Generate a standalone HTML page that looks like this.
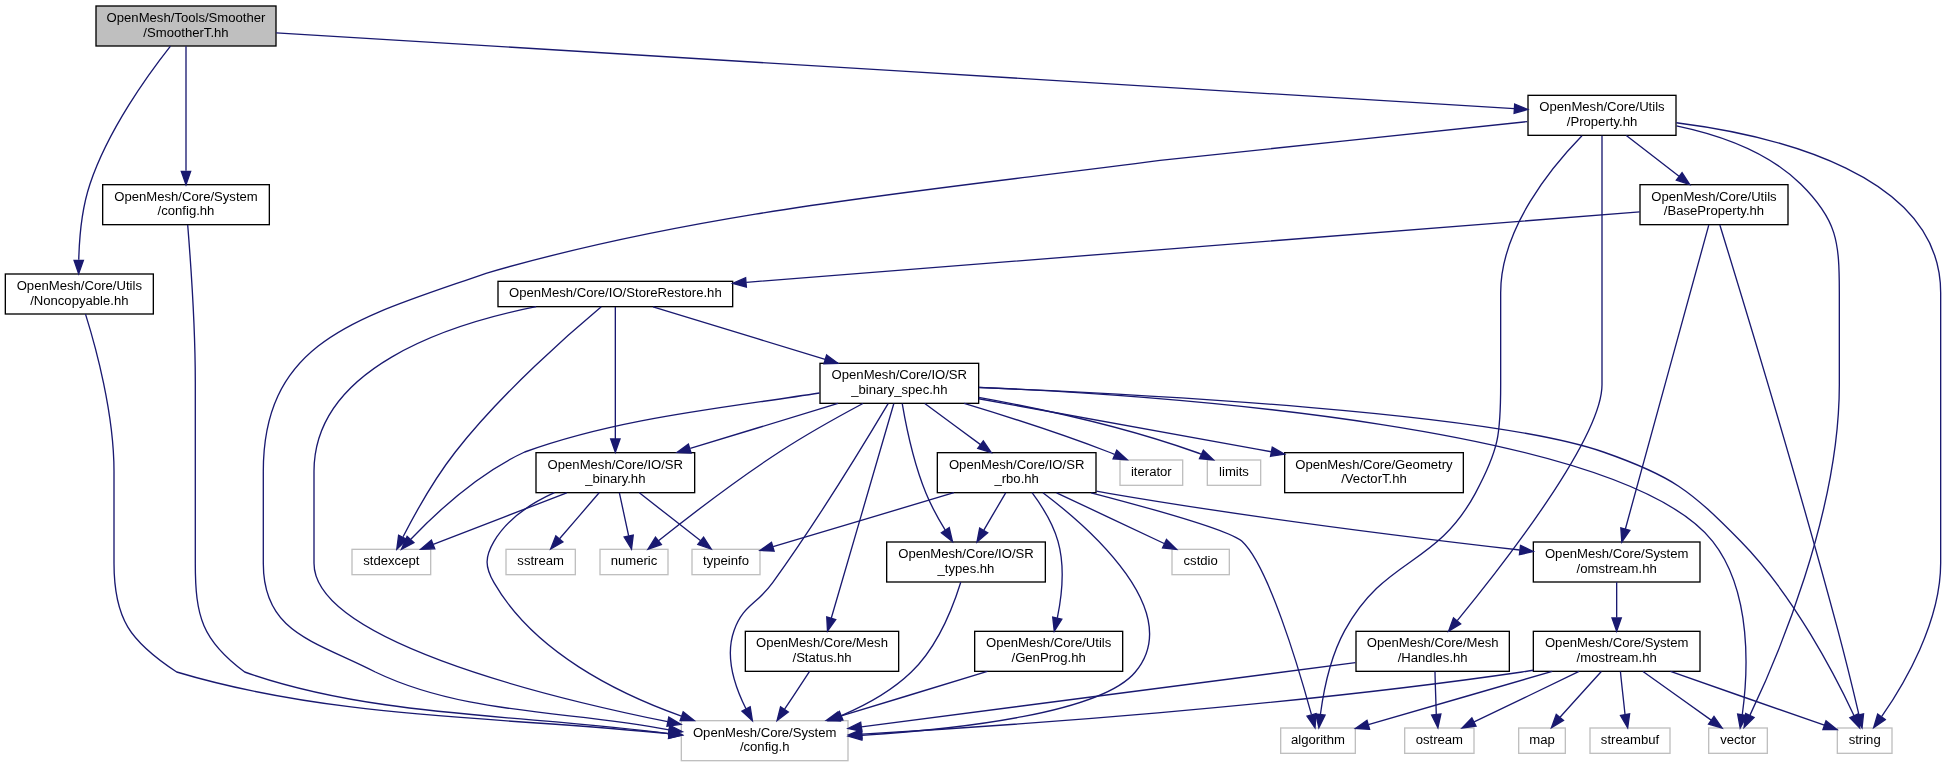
<!DOCTYPE html>
<html><head><meta charset="utf-8"><title>SmootherT.hh include graph</title><style>
html,body{margin:0;padding:0;background:#fff;overflow:hidden;}
svg{display:block;will-change:transform;}
.e{fill:none;stroke:#191970;stroke-width:1.333;}
.a{fill:#191970;stroke:#191970;stroke-width:1.333;}
rect{stroke-width:1.333;}
text{font-family:"Liberation Sans",sans-serif;font-size:13.12px;text-anchor:middle;fill:#000;}
</style></head><body>
<svg width="1946" height="767" viewBox="0 0 1946 767">
<rect x="0" y="0" width="1946" height="767" fill="#fff" stroke="none"/>
<rect x="96" y="6" width="180" height="40" fill="#bfbfbf" stroke="#000"/>
<text x="186" y="22">OpenMesh/Tools/Smoother</text>
<text x="186" y="36.67">/SmootherT.hh</text>
<rect x="102.67" y="184.67" width="166.67" height="40" fill="#fff" stroke="#000"/>
<text x="186" y="200.67">OpenMesh/Core/System</text>
<text x="186" y="215.33">/config.hh</text>
<rect x="1528" y="95.33" width="148" height="40" fill="#fff" stroke="#000"/>
<text x="1602" y="111.33">OpenMesh/Core/Utils</text>
<text x="1602" y="126">/Property.hh</text>
<rect x="5.33" y="274" width="148" height="40" fill="#fff" stroke="#000"/>
<text x="79.33" y="290">OpenMesh/Core/Utils</text>
<text x="79.33" y="304.67">/Noncopyable.hh</text>
<rect x="681.33" y="720.67" width="166.67" height="40" fill="#fff" stroke="#bfbfbf"/>
<text x="764.67" y="736.67">OpenMesh/Core/System</text>
<text x="764.67" y="751.33">/config.h</text>
<rect x="1280.67" y="728" width="74.67" height="25.33" fill="#fff" stroke="#bfbfbf"/>
<text x="1318" y="744">algorithm</text>
<rect x="1640" y="184.67" width="148" height="40" fill="#fff" stroke="#000"/>
<text x="1714" y="200.67">OpenMesh/Core/Utils</text>
<text x="1714" y="215.33">/BaseProperty.hh</text>
<rect x="1837.33" y="728" width="54.67" height="25.33" fill="#fff" stroke="#bfbfbf"/>
<text x="1864.67" y="744">string</text>
<rect x="1708.67" y="728" width="58.67" height="25.33" fill="#fff" stroke="#bfbfbf"/>
<text x="1738" y="744">vector</text>
<rect x="1356" y="631.33" width="153.33" height="40" fill="#fff" stroke="#000"/>
<text x="1432.67" y="647.33">OpenMesh/Core/Mesh</text>
<text x="1432.67" y="662">/Handles.hh</text>
<rect x="1533.33" y="542" width="166.67" height="40" fill="#fff" stroke="#000"/>
<text x="1616.67" y="558">OpenMesh/Core/System</text>
<text x="1616.67" y="572.67">/omstream.hh</text>
<rect x="498" y="281.33" width="234.67" height="25.33" fill="#fff" stroke="#000"/>
<text x="615.33" y="297.33">OpenMesh/Core/IO/StoreRestore.hh</text>
<rect x="1533.33" y="631.33" width="166.67" height="40" fill="#fff" stroke="#000"/>
<text x="1616.67" y="647.33">OpenMesh/Core/System</text>
<text x="1616.67" y="662">/mostream.hh</text>
<rect x="1518.67" y="728" width="46.67" height="25.33" fill="#fff" stroke="#bfbfbf"/>
<text x="1542" y="744">map</text>
<rect x="1590" y="728" width="80" height="25.33" fill="#fff" stroke="#bfbfbf"/>
<text x="1630" y="744">streambuf</text>
<rect x="1404.67" y="728" width="69.33" height="25.33" fill="#fff" stroke="#bfbfbf"/>
<text x="1439.33" y="744">ostream</text>
<rect x="820" y="363.33" width="158.67" height="40" fill="#fff" stroke="#000"/>
<text x="899.33" y="379.33">OpenMesh/Core/IO/SR</text>
<text x="899.33" y="394">_binary_spec.hh</text>
<rect x="352" y="549.33" width="78.67" height="25.33" fill="#fff" stroke="#bfbfbf"/>
<text x="391.33" y="565.33">stdexcept</text>
<rect x="536" y="452.67" width="158.67" height="40" fill="#fff" stroke="#000"/>
<text x="615.33" y="468.67">OpenMesh/Core/IO/SR</text>
<text x="615.33" y="483.33">_binary.hh</text>
<rect x="937.33" y="452.67" width="158.67" height="40" fill="#fff" stroke="#000"/>
<text x="1016.67" y="468.67">OpenMesh/Core/IO/SR</text>
<text x="1016.67" y="483.33">_rbo.hh</text>
<rect x="886.67" y="542" width="158.67" height="40" fill="#fff" stroke="#000"/>
<text x="966" y="558">OpenMesh/Core/IO/SR</text>
<text x="966" y="572.67">_types.hh</text>
<rect x="600" y="549.33" width="68" height="25.33" fill="#fff" stroke="#bfbfbf"/>
<text x="634" y="565.33">numeric</text>
<rect x="1120" y="460" width="62.67" height="25.33" fill="#fff" stroke="#bfbfbf"/>
<text x="1151.33" y="476">iterator</text>
<rect x="1207.33" y="460" width="53.33" height="25.33" fill="#fff" stroke="#bfbfbf"/>
<text x="1234" y="476">limits</text>
<rect x="745.33" y="631.33" width="153.33" height="40" fill="#fff" stroke="#000"/>
<text x="822" y="647.33">OpenMesh/Core/Mesh</text>
<text x="822" y="662">/Status.hh</text>
<rect x="1284.67" y="452.67" width="178.67" height="40" fill="#fff" stroke="#000"/>
<text x="1374" y="468.67">OpenMesh/Core/Geometry</text>
<text x="1374" y="483.33">/VectorT.hh</text>
<rect x="1172" y="549.33" width="57.33" height="25.33" fill="#fff" stroke="#bfbfbf"/>
<text x="1200.67" y="565.33">cstdio</text>
<rect x="974.67" y="631.33" width="148" height="40" fill="#fff" stroke="#000"/>
<text x="1048.67" y="647.33">OpenMesh/Core/Utils</text>
<text x="1048.67" y="662">/GenProg.hh</text>
<rect x="692" y="549.33" width="68" height="25.33" fill="#fff" stroke="#bfbfbf"/>
<text x="726" y="565.33">typeinfo</text>
<rect x="506" y="549.33" width="69.33" height="25.33" fill="#fff" stroke="#bfbfbf"/>
<text x="540.67" y="565.33">sstream</text>
<path class="e" d="M186,46.17C186,75.95 186,134.25 186,170.87"/>
<polygon class="a" points="190.67,171.31 186,184.64 181.33,171.31 190.67,171.31"/>
<path class="e" d="M276.19,32.85C532.2,48.52 1261.21,93.15 1514.23,108.63"/>
<polygon class="a" points="1514.68,103.99 1527.71,109.45 1514.11,113.29 1514.68,103.99"/>
<path class="e" d="M170.47,46.16C148.31,74.23 108.27,129.56 90,184 81.77,208.53 79.28,237.8 78.76,259.77"/>
<polygon class="a" points="83.41,260.37 78.65,273.68 74.08,260.31 83.41,260.37"/>
<path class="e" d="M187.7,225C190.3,257.2 195.3,324.8 195.3,382 195.3,382 195.3,382 195.3,563.3 195.3,616.4 202,640.5 244.7,672 374.56,718.07 531.96,714.72 669,733.7"/>
<polygon class="a" points="668.58,738.35 682.3,735 669.48,729.06 668.58,738.35"/>
<path class="e" d="M1527.2,121.6C1404.8,134.5 1282.4,147.5 1160,160.4 934.42,190.16 705.32,209.39 486,273.3 361,317.2 263.3,338.9 263.3,471.3 263.3,471.3 263.3,471.3 263.3,563.3 263.3,632.7 313.5,640.5 375.3,672 465.77,715.46 572.75,710.54 669.1,729.9"/>
<polygon class="a" points="668.46,734.52 682.3,731.7 669.72,725.27 668.46,734.52"/>
<path class="e" d="M1581.97,135.69C1552.45,165.93 1500.67,228.15 1500.67,292.67 1500.67,292.67 1500.67,292.67 1500.67,384.67 1500.67,434.25 1498.88,449.69 1475.33,493.33 1435.33,567.48 1385.11,556.76 1344.67,630.67 1330.28,656.97 1323.55,691.07 1320.47,714"/>
<polygon class="a" points="1325.03,715.13 1318.87,727.84 1315.76,714.07 1325.03,715.13"/>
<path class="e" d="M1626.31,135.47C1641.71,147.4 1661.89,163.01 1679.01,176.27"/>
<polygon class="a" points="1682.05,172.72 1689.75,184.56 1676.35,180.09 1682.05,172.72"/>
<path class="e" d="M1676.32,122.77C1776.01,135.48 1940.67,174.39 1940.67,292.67 1940.67,292.67 1940.67,292.67 1940.67,563.33 1940.67,622.39 1904.15,684.13 1881.75,716.47"/>
<polygon class="a" points="1885.24,719.6 1873.68,727.72 1877.65,714.16 1885.24,719.6"/>
<path class="e" d="M1676.43,125.8C1717.79,134.45 1767.45,151.29 1800.67,184 1837.19,219.97 1839.33,241.4 1839.33,292.67 1839.33,292.67 1839.33,292.67 1839.33,384.67 1839.33,513.64 1776.61,659.19 1749.87,715.41"/>
<polygon class="a" points="1754.05,717.48 1744.04,727.44 1745.65,713.4 1754.05,717.48"/>
<path class="e" d="M1602,135.68C1602,167.96 1602,235.53 1602,292.67 1602,292.67 1602,292.67 1602,384.67 1602,437.81 1504.23,563.4 1457.27,620.65"/>
<polygon class="a" points="1460.68,623.84 1448.6,631.15 1453.49,617.89 1460.68,623.84"/>
<path class="e" d="M1719.85,224.96C1738.17,284.49 1795.67,473.04 1838,630.67 1845.69,659.32 1853.71,692.47 1858.91,714.55"/>
<polygon class="a" points="1863.53,713.83 1862.03,727.87 1854.44,715.95 1863.53,713.83"/>
<path class="e" d="M1708.77,225.07C1692.88,282.93 1645.12,456.97 1625.37,528.96"/>
<polygon class="a" points="1629.84,530.31 1621.81,541.93 1620.84,527.84 1629.84,530.31"/>
<path class="e" d="M1639.77,211.85C1456.16,226.33 978.73,264 746.29,282.33"/>
<polygon class="a" points="746.36,287.01 732.71,283.41 745.63,277.71 746.36,287.01"/>
<path class="e" d="M1616.67,582.13C1616.67,592.48 1616.67,605.59 1616.67,617.52"/>
<polygon class="a" points="1621.33,617.89 1616.67,631.23 1612,617.89 1621.33,617.89"/>
<path class="e" d="M1533.13,670.25C1529.37,670.88 1525.65,671.47 1522,672 1286.33,706.43 1006.67,725.77 862.08,734.2"/>
<polygon class="a" points="862.09,738.87 848.52,734.97 861.56,729.55 862.09,738.87"/>
<path class="e" d="M1552.23,671.36C1497.13,687.35 1418.95,710.04 1368.35,724.72"/>
<polygon class="a" points="1369.59,729.23 1355.48,728.45 1366.99,720.25 1369.59,729.23"/>
<path class="e" d="M1670.48,671.47C1716.76,687.64 1782.48,710.61 1824.35,725.24"/>
<polygon class="a" points="1826,720.88 1837.04,729.68 1822.92,729.69 1826,720.88"/>
<path class="e" d="M1601.33,671.47C1589.09,684.85 1573.05,702.88 1560.21,717"/>
<polygon class="a" points="1563.49,720.36 1551.45,727.75 1556.27,714.45 1563.49,720.36"/>
<path class="e" d="M1620.43,671.47C1621.61,684.05 1623.61,700.73 1625.01,714.41"/>
<polygon class="a" points="1629.64,713.75 1627.68,727.75 1620.49,715.59 1629.64,713.75"/>
<path class="e" d="M1643,671.47C1663.15,685.87 1690.85,705.65 1711.15,720.15"/>
<polygon class="a" points="1713.99,716.44 1722.12,727.99 1708.56,724.04 1713.99,716.44"/>
<path class="e" d="M1579.05,671.47C1547.71,686.48 1504.67,707.33 1474.11,721.95"/>
<polygon class="a" points="1476.03,726.2 1462.01,727.99 1471.85,717.85 1476.03,726.2"/>
<path class="e" d="M536.16,306.71C446.88,324.52 314,368.33 314,471.33 314,471.33 314,471.33 314,563.33 314,638.65 535.17,694.81 667.64,721.71"/>
<polygon class="a" points="668.8,717.17 680.96,724.37 666.96,726.32 668.8,717.17"/>
<path class="e" d="M653.04,306.84C696.77,320.19 769.89,342.49 825.12,359.36"/>
<polygon class="a" points="826.65,354.95 838.04,363.29 823.92,363.87 826.65,354.95"/>
<path class="e" d="M601.28,306.85C571.84,331.43 502.53,391.69 455.33,452 434.11,479.13 414.79,513.96 403.07,536.77"/>
<polygon class="a" points="406.95,539.44 396.79,549.25 398.61,535.24 406.95,539.44"/>
<path class="e" d="M615.33,306.88C615.33,333.31 615.33,398.97 615.33,438.88"/>
<polygon class="a" points="620,438.96 615.33,452.29 610.67,438.96 620,438.96"/>
<path class="e" d="M888.12,403.68C866.8,439.49 818.43,519.07 772.67,582.67 756.67,604.91 743.11,604.83 734,630.67 724.84,656.63 734.96,686.81 745.96,708.76"/>
<polygon class="a" points="750.16,706.71 752.4,720.65 741.95,711.15 750.16,706.71"/>
<path class="e" d="M979.11,387.52C1138.31,393.97 1489.88,412.37 1603.33,452 1672.08,476.01 1689.63,489.4 1740.67,541.33 1793.83,595.41 1835.47,676.11 1854.07,715.69"/>
<polygon class="a" points="1858.35,713.81 1859.67,727.88 1849.87,717.71 1858.35,713.81"/>
<path class="e" d="M978.88,387.36C1165.45,395.53 1622.31,427.05 1712.67,541.33 1752.69,591.96 1747.89,673.69 1742.31,714.49"/>
<polygon class="a" points="1746.87,715.52 1740.21,727.99 1737.64,714.09 1746.87,715.52"/>
<path class="e" d="M924.79,403.47C941.09,415.51 962.49,431.32 980.53,444.64"/>
<polygon class="a" points="983.31,440.89 991.25,452.56 977.76,448.4 983.31,440.89"/>
<path class="e" d="M902.24,403.65C906.01,425.77 913.64,463.13 926,493.33 931.15,505.91 938.36,518.91 945.25,530.11"/>
<polygon class="a" points="949.24,527.68 952.49,541.44 941.37,532.71 949.24,527.68"/>
<path class="e" d="M862.91,403.51C838.73,416.39 806.57,434.28 779.33,452 735.23,480.68 686.83,518.19 658.49,540.8"/>
<polygon class="a" points="661.31,544.52 647.99,549.23 655.47,537.24 661.31,544.52"/>
<path class="e" d="M964.13,403.41C1005.83,416 1060.95,433.59 1108.67,452 1110.56,452.73 1112.49,453.51 1114.44,454.31"/>
<polygon class="a" points="1116.79,450.23 1127.17,459.8 1113.08,458.8 1116.79,450.23"/>
<path class="e" d="M978.69,397.37C1039.16,408.32 1123.88,426.43 1195.33,452 1197.23,452.68 1199.16,453.43 1201.08,454.23"/>
<polygon class="a" points="1203.37,450.15 1213.53,459.96 1199.47,458.63 1203.37,450.15"/>
<path class="e" d="M819.5,393C721.04,408.38 619.02,418.01 524.7,452 478.6,473.2 434.9,514.1 410.8,539.2"/>
<polygon class="a" points="413.9,542.7 401.4,549.2 407.1,536.3 413.9,542.7"/>
<path class="e" d="M838.05,403.36C794.72,416.59 736.36,434.4 690.25,448.47"/>
<polygon class="a" points="691.11,453.09 676.99,452.52 688.37,444.16 691.11,453.09"/>
<path class="e" d="M893.77,403.75C880.61,448.88 847.48,562.56 831.25,618.25"/>
<polygon class="a" points="835.72,619.6 827.51,631.09 826.76,616.99 835.72,619.6"/>
<path class="e" d="M978.76,398.75C1051.41,411.69 1162.25,431.57 1271.21,451.75"/>
<polygon class="a" points="1272.24,447.19 1284.49,454.2 1270.53,456.36 1272.24,447.19"/>
<path class="e" d="M1042.95,492.71C1091.32,529.39 1185.16,612.32 1135.33,672 1101.11,713 959.69,729.09 861.79,735.37"/>
<polygon class="a" points="861.87,740.04 848.27,736.19 861.29,730.72 861.87,740.04"/>
<path class="e" d="M1091.19,492.77C1152.29,508.75 1230.55,530.72 1242,541.33 1268.2,565.61 1298.33,666.8 1311.4,714.39"/>
<polygon class="a" points="1316.04,713.71 1315.01,727.8 1307.03,716.13 1316.04,713.71"/>
<path class="e" d="M1096.39,491.13C1100.53,491.91 1104.64,492.64 1108.67,493.33 1251.13,517.71 1417.36,538.27 1519.81,550.03"/>
<polygon class="a" points="1520.51,545.41 1533.23,551.56 1519.44,554.68 1520.51,545.41"/>
<path class="e" d="M1056.59,492.8C1088.59,507.88 1133.12,528.85 1164.17,543.48"/>
<polygon class="a" points="1166.51,539.43 1176.59,549.32 1162.53,547.87 1166.51,539.43"/>
<path class="e" d="M1032.05,492.68C1041.59,505.49 1052.93,523.39 1058,541.33 1065.09,566.44 1061.84,596.01 1057.33,617.96"/>
<polygon class="a" points="1061.83,619.21 1054.28,631.16 1052.73,617.12 1061.83,619.21"/>
<path class="e" d="M953.96,492.69C899.65,508.89 822.29,531.96 773.12,546.61"/>
<polygon class="a" points="774.16,551.17 760.04,550.52 771.49,542.24 774.16,551.17"/>
<path class="e" d="M1005.67,492.8C999.29,503.71 991.12,517.69 983.84,530.15"/>
<polygon class="a" points="987.73,532.75 976.97,541.89 979.67,528.03 987.73,532.75"/>
<path class="e" d="M987.39,671.36C944.05,684.59 885.69,702.4 839.59,716.47"/>
<polygon class="a" points="840.44,721.09 826.32,720.52 837.71,712.16 840.44,721.09"/>
<path class="e" d="M960.77,582.2C953.35,605.92 937.63,646.63 911.33,672 891.76,690.88 865.95,705.13 841.43,715.53"/>
<polygon class="a" points="842.88,719.99 828.77,720.64 839.39,711.33 842.88,719.99"/>
<path class="e" d="M554.44,492.72C531.29,503.13 507.32,518.71 494,541.33 484.68,557.16 484.83,566.75 494,582.67 533.96,651.97 617.59,693.4 681.39,716.08"/>
<polygon class="a" points="683.17,711.76 694.27,720.51 680.13,720.59 683.17,711.76"/>
<path class="e" d="M639.35,492.8C657.45,506.99 682.24,526.4 700.67,540.83"/>
<polygon class="a" points="703.57,537.17 711.2,549.08 697.83,544.53 703.57,537.17"/>
<path class="e" d="M619.39,492.8C622.09,505.39 625.68,522.07 628.63,535.75"/>
<polygon class="a" points="633.25,535.05 631.51,549.08 624.13,537.03 633.25,535.05"/>
<path class="e" d="M566.73,492.8C526.91,508.21 471.13,529.79 433.25,544.45"/>
<polygon class="a" points="434.77,548.87 420.65,549.32 431.4,540.16 434.77,548.87"/>
<path class="e" d="M599.13,492.8C587.49,506.32 571.76,524.57 559.55,538.75"/>
<polygon class="a" points="562.89,542.01 550.65,549.08 555.83,535.92 562.89,542.01"/>
<path class="e" d="M809.56,671.47C802.27,682.49 792.89,696.65 784.6,709.2"/>
<polygon class="a" points="788.33,712.01 777.08,720.56 780.55,706.87 788.33,712.01"/>
<path class="e" d="M1355.39,662.69C1233.03,678.57 994.93,709.45 861.41,726.79"/>
<polygon class="a" points="861.87,731.43 848.04,728.52 860.67,722.17 861.87,731.43"/>
<path class="e" d="M1434.99,671.47C1435.2,684.05 1435.92,700.73 1436.27,714.41"/>
<polygon class="a" points="1440.91,713.93 1437.91,727.75 1431.64,715.08 1440.91,713.93"/>
<path class="e" d="M85.5,314.1C95.5,346 114,413.1 114,471.3 114,471.3 114,471.3 114,563.3 114,619.1 130.1,641.4 176.7,672 335.08,719.4 505.55,716.8 669,733.7"/>
<polygon class="a" points="668.58,738.35 682.3,735 669.48,729.06 668.58,738.35"/>
</svg>
</body></html>
